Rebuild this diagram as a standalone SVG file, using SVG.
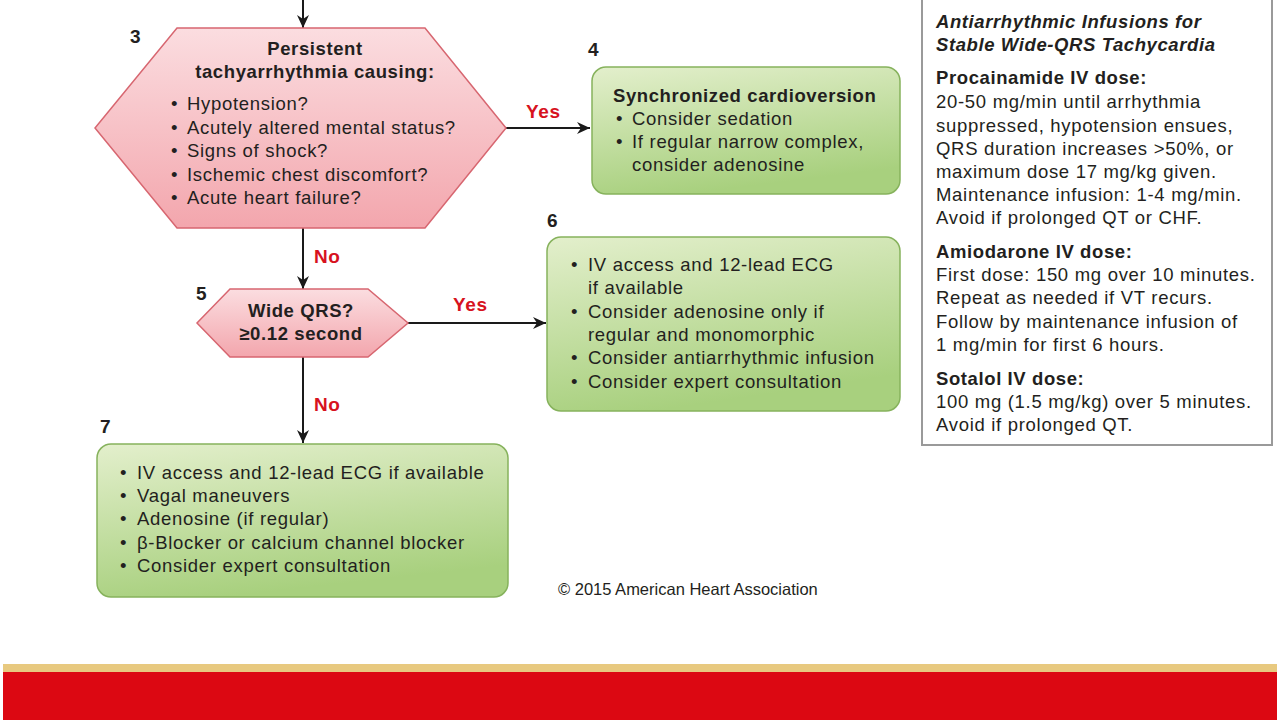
<svg xmlns="http://www.w3.org/2000/svg" width="1280" height="720" viewBox="0 0 1280 720">
<style>
text{font-family:"Liberation Sans",Arial,sans-serif;fill:#231f20;font-size:18.5px;letter-spacing:0.7px}
.b{font-weight:bold;letter-spacing:0.6px}
.num{font-weight:bold;font-size:19px;letter-spacing:0}
.lbl{font-weight:bold;fill:#d7121e;font-size:19px;letter-spacing:0.6px}
.copy{font-size:16.5px;letter-spacing:0}
.pink{fill:url(#gp);stroke:#d76670;stroke-width:1.5}
.green{fill:url(#gg);stroke:#86b25c;stroke-width:1.5}
.conn{stroke:#1a1a1a;stroke-width:2;fill:none}
</style>
<defs>
<linearGradient id="gp" x1="0" y1="0" x2="0" y2="1">
<stop offset="0" stop-color="#fbdde0"/>
<stop offset="1" stop-color="#f3a6ad"/>
</linearGradient>
<linearGradient id="gg" x1="0" y1="0" x2="0.3" y2="1">
<stop offset="0" stop-color="#e3efcc"/>
<stop offset="1" stop-color="#a8d07e"/>
</linearGradient>
<marker id="ar" markerUnits="userSpaceOnUse" markerWidth="14" markerHeight="12" refX="13" refY="6" orient="auto">
<path d="M0,0 L13,6 L0,12 L4,6 Z" fill="#1a1a1a"/>
</marker>
</defs>
<rect width="1280" height="720" fill="#ffffff"/>

<g id="connectors">
<line class="conn" x1="303" y1="0" x2="303" y2="28" marker-end="url(#ar)"/>
<line class="conn" x1="506" y1="128" x2="590" y2="128" marker-end="url(#ar)"/>
<text class="lbl" x="526" y="118">Yes</text>
<line class="conn" x1="303" y1="228" x2="303" y2="289" marker-end="url(#ar)"/>
<text class="lbl" x="314" y="263">No</text>
<line class="conn" x1="408" y1="323" x2="546" y2="323" marker-end="url(#ar)"/>
<text class="lbl" x="453" y="311">Yes</text>
<line class="conn" x1="303" y1="357" x2="303" y2="443" marker-end="url(#ar)"/>
<text class="lbl" x="314" y="411">No</text>
</g>

<g id="node3">
<polygon class="pink" points="177,28 425,28 506,128 425,228 177,228 95,128"/>
<text class="num" x="130" y="43">3</text>
<text class="b" x="315" y="55" text-anchor="middle">Persistent</text>
<text class="b" x="315" y="78" text-anchor="middle">tachyarrhythmia causing:</text>
<text x="171" y="110">•</text><text x="187" y="110">Hypotension?</text>
<text x="171" y="134">•</text><text x="187" y="134">Acutely altered mental status?</text>
<text x="171" y="157">•</text><text x="187" y="157">Signs of shock?</text>
<text x="171" y="181">•</text><text x="187" y="181">Ischemic chest discomfort?</text>
<text x="171" y="204">•</text><text x="187" y="204">Acute heart failure?</text>
</g>

<g id="node4">
<rect class="green" x="592" y="67" width="308" height="127" rx="14"/>
<text class="num" x="588" y="56">4</text>
<text class="b" x="613" y="102">Synchronized cardioversion</text>
<text x="616" y="125">•</text><text x="632" y="125">Consider sedation</text>
<text x="616" y="148">•</text><text x="632" y="148">If regular narrow complex,</text>
<text x="632" y="171">consider adenosine</text>
</g>

<g id="node5">
<polygon class="pink" points="230,289 368,289 408,323 368,357 230,357 197,323"/>
<text class="num" x="196" y="300">5</text>
<text class="b" x="301" y="317" text-anchor="middle">Wide QRS?</text>
<text class="b" x="301" y="340" text-anchor="middle">≥0.12 second</text>
</g>

<g id="node6">
<rect class="green" x="547" y="237" width="353" height="174" rx="14"/>
<text class="num" x="547" y="227">6</text>
<text x="571" y="271">•</text><text x="588" y="271">IV access and 12-lead ECG</text>
<text x="588" y="294">if available</text>
<text x="571" y="318">•</text><text x="588" y="318">Consider adenosine only if</text>
<text x="588" y="341">regular and monomorphic</text>
<text x="571" y="364">•</text><text x="588" y="364">Consider antiarrhythmic infusion</text>
<text x="571" y="388">•</text><text x="588" y="388">Consider expert consultation</text>
</g>

<g id="node7">
<rect class="green" x="97" y="444" width="411" height="153" rx="14"/>
<text class="num" x="100" y="433">7</text>
<text x="120" y="479">•</text><text x="137" y="479">IV access and 12-lead ECG if available</text>
<text x="120" y="502">•</text><text x="137" y="502">Vagal maneuvers</text>
<text x="120" y="525">•</text><text x="137" y="525">Adenosine (if regular)</text>
<text x="120" y="549">•</text><text x="137" y="549">β-Blocker or calcium channel blocker</text>
<text x="120" y="572">•</text><text x="137" y="572">Consider expert consultation</text>
</g>

<g id="infusions">
<rect x="922" y="-4" width="350" height="449" fill="#ffffff" stroke="#9a9a9a" stroke-width="2"/>
<text class="b" x="936" y="28" font-style="italic">Antiarrhythmic Infusions for</text>
<text class="b" x="936" y="51" font-style="italic">Stable Wide-QRS Tachycardia</text>
<text class="b" x="936" y="84">Procainamide IV dose:</text>
<text x="936" y="108">20-50 mg/min until arrhythmia</text>
<text x="936" y="132">suppressed, hypotension ensues,</text>
<text x="936" y="155">QRS duration increases &gt;50%, or</text>
<text x="936" y="178">maximum dose 17 mg/kg given.</text>
<text x="936" y="201">Maintenance infusion: 1-4 mg/min.</text>
<text x="936" y="224">Avoid if prolonged QT or CHF.</text>
<text class="b" x="936" y="258">Amiodarone IV dose:</text>
<text x="936" y="281">First dose: 150 mg over 10 minutes.</text>
<text x="936" y="304">Repeat as needed if VT recurs.</text>
<text x="936" y="328">Follow by maintenance infusion of</text>
<text x="936" y="351">1 mg/min for first 6 hours.</text>
<text class="b" x="936" y="385">Sotalol IV dose:</text>
<text x="936" y="408">100 mg (1.5 mg/kg) over 5 minutes.</text>
<text x="936" y="431">Avoid if prolonged QT.</text>
</g>

<text class="copy" x="558" y="595">© 2015 American Heart Association</text>

<g id="footer">
<rect x="3" y="664" width="1274" height="8" fill="#e8c97f"/>
<rect x="3" y="672" width="1274" height="48" fill="#dc0812"/>
</g>
</svg>
